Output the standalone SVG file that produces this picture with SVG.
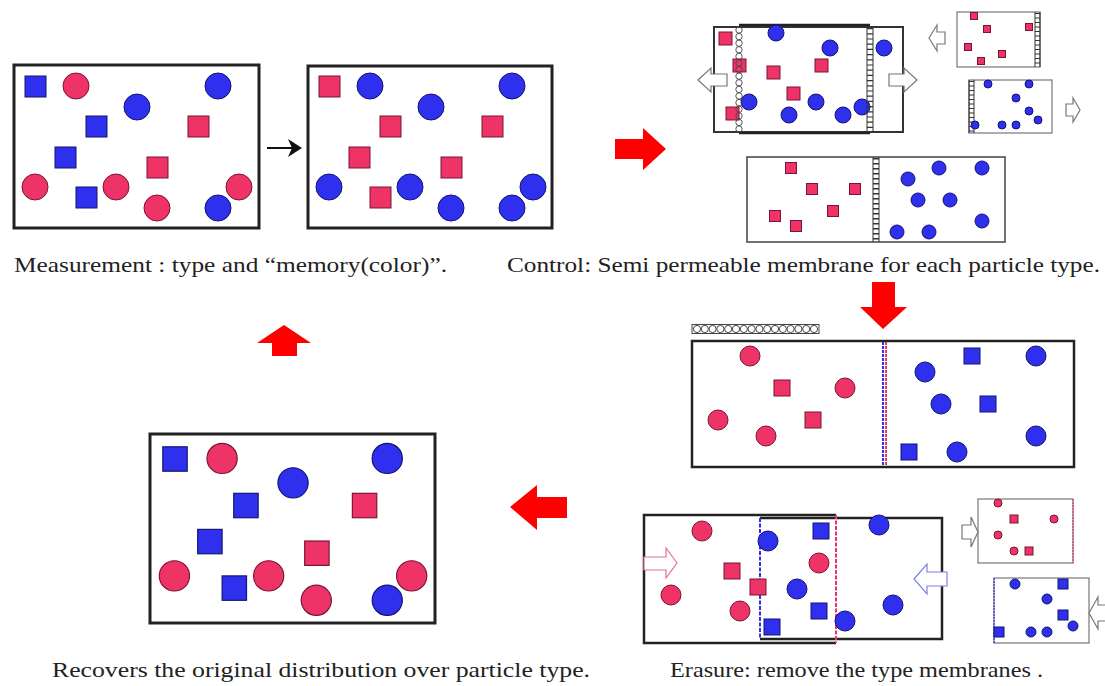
<svg xmlns="http://www.w3.org/2000/svg" xmlns:xlink="http://www.w3.org/1999/xlink" width="1105" height="686" viewBox="0 0 1105 686">
<style>
.rs{fill:#EE3366;stroke:#7A1435;stroke-width:1}
.bs{fill:#2F2FEE;stroke:#141470;stroke-width:1}
.frame{fill:#fff;stroke:#222;stroke-width:3}
.thin{fill:#fff;stroke:#777;stroke-width:1.2}
.line{fill:none;stroke:#222;stroke-width:2.5}
.hollow{fill:#fff;stroke:#777;stroke-width:1.2}
.redarrow{fill:#FF0000}
.mc{fill:#fff;stroke:#333;stroke-width:0.9}
.lad{fill:none;stroke:#333;stroke-width:1}
.label{font-family:"Liberation Serif","DejaVu Serif",serif;font-size:21px;fill:#222}
</style>
<defs>
<g id="set1">
<rect class="bs" x="11" y="11" width="21" height="21"/>
<rect class="bs" x="72" y="51" width="21" height="21"/>
<rect class="bs" x="41" y="82" width="21" height="21"/>
<rect class="bs" x="62" y="122" width="21" height="21"/>
<rect class="rs" x="174" y="51" width="21" height="21"/>
<rect class="rs" x="133" y="92" width="21" height="21"/>
<circle class="rs" cx="62" cy="21" r="13"/>
<circle class="rs" cx="21" cy="122" r="13"/>
<circle class="rs" cx="102" cy="122" r="13"/>
<circle class="rs" cx="143" cy="143" r="13"/>
<circle class="rs" cx="225" cy="122" r="13"/>
<circle class="bs" cx="123" cy="42" r="13"/>
<circle class="bs" cx="204" cy="21" r="13"/>
<circle class="bs" cx="204" cy="143" r="13"/>
</g>
<g id="set2">
<rect class="rs" x="11" y="11" width="21" height="21"/>
<rect class="rs" x="72" y="51" width="21" height="21"/>
<rect class="rs" x="41" y="82" width="21" height="21"/>
<rect class="rs" x="62" y="122" width="21" height="21"/>
<rect class="rs" x="174" y="51" width="21" height="21"/>
<rect class="rs" x="133" y="92" width="21" height="21"/>
<circle class="bs" cx="62" cy="21" r="13"/>
<circle class="bs" cx="21" cy="122" r="13"/>
<circle class="bs" cx="102" cy="122" r="13"/>
<circle class="bs" cx="143" cy="143" r="13"/>
<circle class="bs" cx="225" cy="122" r="13"/>
<circle class="bs" cx="123" cy="42" r="13"/>
<circle class="bs" cx="204" cy="21" r="13"/>
<circle class="bs" cx="204" cy="143" r="13"/>
</g>
</defs>
<rect width="1105" height="686" fill="#fff"/>

<!-- Box 1: measurement -->
<g id="box-measurement">
<rect class="frame" x="14" y="65" width="245" height="163"/>
<use xlink:href="#set1" href="#set1" transform="translate(14,65)"/>
</g>

<!-- Box 2: memory -->
<g id="box-memory">
<rect class="frame" x="308" y="66" width="244" height="162"/>
<use xlink:href="#set2" href="#set2" transform="translate(308,65)"/>
</g>

<!-- Box 3: recovered -->
<g id="box-recovered">
<rect class="frame" x="150" y="434" width="285" height="189"/>
<use xlink:href="#set1" href="#set1" transform="translate(150,434) scale(1.163)"/>
</g>

<!-- Control: sliding membranes -->
<g id="control-slide">
<rect fill="#fff" stroke="#333" stroke-width="2" x="714" y="27" width="189" height="105"/>
<line class="line" x1="739" y1="25" x2="870" y2="25" stroke-width="3"/>
<line class="line" x1="739" y1="133" x2="870" y2="133" stroke-width="3"/>
<rect class="rs" x="719" y="32" width="13" height="13"/>
<rect class="rs" x="733" y="59" width="13" height="13"/>
<rect class="rs" x="767" y="66" width="13" height="13"/>
<rect class="rs" x="815" y="59" width="13" height="13"/>
<rect class="rs" x="787" y="87" width="13" height="13"/>
<rect class="rs" x="726" y="107" width="13" height="13"/>
<circle class="bs" cx="776" cy="33" r="8"/>
<circle class="bs" cx="830" cy="48" r="8"/>
<circle class="bs" cx="884" cy="48" r="8"/>
<circle class="bs" cx="749" cy="102" r="8"/>
<circle class="bs" cx="816" cy="102" r="8"/>
<circle class="bs" cx="789" cy="115" r="8"/>
<circle class="bs" cx="843" cy="115" r="8"/>
<circle class="bs" cx="862" cy="107" r="8"/>
<g fill="none" stroke="#444" stroke-width="0.9">
<circle cx="739" cy="30" r="3.2"/><circle cx="739" cy="36.6" r="3.2"/><circle cx="739" cy="43.2" r="3.2"/><circle cx="739" cy="49.8" r="3.2"/>
<circle cx="739" cy="56.4" r="3.2"/><circle cx="739" cy="63" r="3.2"/><circle cx="739" cy="69.6" r="3.2"/><circle cx="739" cy="76.2" r="3.2"/>
<circle cx="739" cy="82.8" r="3.2"/><circle cx="739" cy="89.4" r="3.2"/><circle cx="739" cy="96" r="3.2"/><circle cx="739" cy="102.6" r="3.2"/>
<circle cx="739" cy="109.2" r="3.2"/><circle cx="739" cy="115.8" r="3.2"/><circle cx="739" cy="122.4" r="3.2"/><circle cx="739" cy="129" r="3.2"/>
</g>
<path class="lad" d="M867,27V132M873,27V132"/>
<line x1="870" y1="28" x2="870" y2="132" stroke="#333" stroke-width="6" stroke-dasharray="1.2 4"/>
<path class="hollow" d="M698,80 L711,68 V74 H727 V86 H711 V92 Z"/>
<path class="hollow" d="M917,80 L904,68 V74 H889 V86 H904 V92 Z"/>
</g>

<!-- Control: separated small boxes -->
<g id="control-red-box">
<rect class="thin" x="957" y="12" width="83" height="55"/>
<path class="lad" d="M1035,12V67M1040,12V67"/>
<line x1="1037.5" y1="13" x2="1037.5" y2="67" stroke="#333" stroke-width="5" stroke-dasharray="1 3.5"/>
<rect class="rs" x="970.5" y="12.5" width="7" height="7"/>
<rect class="rs" x="983.5" y="25.5" width="7" height="7"/>
<rect class="rs" x="1025.5" y="23.5" width="7" height="7"/>
<rect class="rs" x="964.5" y="43.5" width="7" height="7"/>
<rect class="rs" x="998.5" y="50.5" width="7" height="7"/>
<rect class="rs" x="977.5" y="57.5" width="7" height="7"/>
<path class="hollow" d="M929,38 L937,25 V32 H945 V44 H937 V51 Z"/>
</g>
<g id="control-blue-box">
<rect class="thin" x="969" y="80" width="83" height="53"/>
<path class="lad" d="M969,80V133M974,80V133"/>
<line x1="971.5" y1="81" x2="971.5" y2="133" stroke="#333" stroke-width="5" stroke-dasharray="1 3.5"/>
<circle class="bs" cx="988" cy="84" r="4"/>
<circle class="bs" cx="1029" cy="84" r="4"/>
<circle class="bs" cx="1016" cy="98" r="4"/>
<circle class="bs" cx="1029" cy="111" r="4"/>
<circle class="bs" cx="1038" cy="120" r="4"/>
<circle class="bs" cx="975" cy="125" r="4"/>
<circle class="bs" cx="1002" cy="125" r="4"/>
<circle class="bs" cx="1016" cy="125" r="4"/>
<path class="hollow" d="M1080,110 L1073,98 V104 H1066 V116 H1073 V122 Z"/>
</g>

<!-- Control: divided box -->
<g id="control-divided">
<rect fill="#fff" stroke="#444" stroke-width="1.5" x="747" y="157" width="258" height="85"/>
<path class="lad" d="M873,157V242M879,157V242"/>
<line x1="876" y1="158" x2="876" y2="242" stroke="#333" stroke-width="6" stroke-dasharray="1.5 3.5"/>
<rect class="rs" x="785.5" y="162.5" width="11" height="11"/>
<rect class="rs" x="806.5" y="183.5" width="11" height="11"/>
<rect class="rs" x="849.5" y="183.5" width="11" height="11"/>
<rect class="rs" x="769.5" y="210.5" width="11" height="11"/>
<rect class="rs" x="827.5" y="205.5" width="11" height="11"/>
<rect class="rs" x="790.5" y="220.5" width="11" height="11"/>
<circle class="bs" cx="908" cy="179" r="7"/>
<circle class="bs" cx="939" cy="168" r="7"/>
<circle class="bs" cx="982" cy="168" r="7"/>
<circle class="bs" cx="918" cy="200" r="7"/>
<circle class="bs" cx="950" cy="200" r="7"/>
<circle class="bs" cx="982" cy="221" r="7"/>
<circle class="bs" cx="897" cy="232" r="7"/>
<circle class="bs" cx="929" cy="232" r="7"/>
</g>

<!-- Membrane row (removed membrane) -->
<g id="membrane-row">
<rect fill="none" stroke="#444" stroke-width="1" x="692" y="324.5" width="127" height="9"/>
<g class="mc">
<circle cx="697" cy="329" r="3.6"/><circle cx="704.8" cy="329" r="3.6"/><circle cx="712.6" cy="329" r="3.6"/><circle cx="720.4" cy="329" r="3.6"/>
<circle cx="728.2" cy="329" r="3.6"/><circle cx="736" cy="329" r="3.6"/><circle cx="743.8" cy="329" r="3.6"/><circle cx="751.6" cy="329" r="3.6"/>
<circle cx="759.4" cy="329" r="3.6"/><circle cx="767.2" cy="329" r="3.6"/><circle cx="775" cy="329" r="3.6"/><circle cx="782.8" cy="329" r="3.6"/>
<circle cx="790.6" cy="329" r="3.6"/><circle cx="798.4" cy="329" r="3.6"/><circle cx="806.2" cy="329" r="3.6"/><circle cx="814" cy="329" r="3.6"/>
</g>
</g>

<!-- Erasure: box with memory membranes -->
<g id="erasure-box">
<rect fill="#fff" stroke="#222" stroke-width="2.5" x="692" y="341" width="382" height="126"/>
<line x1="883" y1="342" x2="883" y2="466" stroke="#3333DD" stroke-width="2" stroke-dasharray="3 1"/>
<line x1="886" y1="342" x2="886" y2="466" stroke="#EE3366" stroke-width="2" stroke-dasharray="3 1"/>
<circle class="rs" cx="750" cy="356" r="10"/>
<circle class="rs" cx="845" cy="388" r="10"/>
<circle class="rs" cx="718" cy="420" r="10"/>
<circle class="rs" cx="766" cy="436" r="10"/>
<rect class="rs" x="774" y="380" width="16" height="16"/>
<rect class="rs" x="805" y="412" width="16" height="16"/>
<circle class="bs" cx="925" cy="372" r="10"/>
<circle class="bs" cx="1036" cy="356" r="10"/>
<circle class="bs" cx="941" cy="404" r="10"/>
<circle class="bs" cx="1036" cy="436" r="10"/>
<circle class="bs" cx="957" cy="452" r="10"/>
<rect class="bs" x="964" y="348" width="16" height="16"/>
<rect class="bs" x="980" y="396" width="16" height="16"/>
<rect class="bs" x="901" y="444" width="16" height="16"/>
</g>

<!-- Erasure: overlapping boxes -->
<g id="erasure-overlap">
<rect fill="#fff" stroke="none" x="644" y="515" width="298" height="128"/>
<path class="line" d="M836,515 H644 V643 H836"/>
<path class="line" d="M760,518 H942 V639 H760"/>
<line x1="836" y1="515" x2="836" y2="643" stroke="#EE3366" stroke-width="2" stroke-dasharray="4 1.5"/>
<line x1="760" y1="518" x2="760" y2="639" stroke="#3333DD" stroke-width="2" stroke-dasharray="4 1.5"/>
<circle class="rs" cx="702" cy="531" r="10"/>
<circle class="rs" cx="671" cy="595" r="10"/>
<circle class="rs" cx="740" cy="611" r="10"/>
<circle class="rs" cx="819" cy="563" r="10"/>
<rect class="rs" x="724" y="563" width="16" height="16"/>
<rect class="rs" x="750" y="579" width="16" height="16"/>
<circle class="bs" cx="768" cy="541" r="10"/>
<circle class="bs" cx="879" cy="525" r="10"/>
<circle class="bs" cx="797" cy="589" r="10"/>
<circle class="bs" cx="893" cy="605" r="10"/>
<circle class="bs" cx="845" cy="621" r="10"/>
<rect class="bs" x="813" y="523" width="16" height="16"/>
<rect class="bs" x="811" y="603" width="16" height="16"/>
<rect class="bs" x="764" y="619" width="16" height="16"/>
<path fill="#fff" stroke="#E07090" stroke-width="1.2" d="M677,563 L666,548 V557 H644 V570 H666 V578 Z"/>
<path fill="#fff" stroke="#8080E0" stroke-width="1.2" d="M914,579 L927,564 V572 H947 V586 H927 V594 Z"/>
</g>

<!-- Erasure: small boxes -->
<g id="erasure-red-box">
<rect class="thin" x="978" y="499" width="95" height="64"/>
<line x1="1073" y1="499" x2="1073" y2="563" stroke="#EE3366" stroke-width="1.2" stroke-dasharray="2 1"/>
<circle class="rs" cx="998" cy="503" r="4"/>
<circle class="rs" cx="1054" cy="519" r="4"/>
<circle class="rs" cx="998" cy="535" r="4"/>
<circle class="rs" cx="1014" cy="551" r="4"/>
<rect class="rs" x="1010" y="515" width="8" height="8"/>
<rect class="rs" x="1025" y="547" width="8" height="8"/>
<path class="hollow" d="M978,532 L971,517 V525 H962 V539 H971 V547 Z"/>
</g>
<g id="erasure-blue-box">
<rect class="thin" x="994" y="578" width="95" height="65"/>
<line x1="994" y1="578" x2="994" y2="643" stroke="#3333DD" stroke-width="1.2" stroke-dasharray="2 1"/>
<circle class="bs" cx="1015" cy="584" r="5"/>
<circle class="bs" cx="1047" cy="599" r="5"/>
<circle class="bs" cx="1073" cy="626" r="5"/>
<circle class="bs" cx="1031" cy="632" r="5"/>
<circle class="bs" cx="1047" cy="632" r="5"/>
<rect class="bs" x="1058" y="579" width="10" height="10"/>
<rect class="bs" x="1058" y="610" width="10" height="10"/>
<rect class="bs" x="994" y="627" width="10" height="10"/>
<path class="hollow" d="M1089,613 L1098,597 V605 H1106 V621 H1098 V629 Z"/>
</g>

<!-- Connectors -->
<g id="connectors">
<line x1="267" y1="148" x2="292" y2="148" stroke="#111" stroke-width="2"/>
<path fill="#111" d="M302,148 L288,139 L292,148 L288,157 Z"/>
<path class="redarrow" d="M615,139 H643 V128 L666,149 L643,170 V159 H615 Z"/>
<path class="redarrow" d="M872,282 H895 V307 H907 L883,329 L860,307 H872 Z"/>
<path class="redarrow" d="M272,356 V343 H257 L284,325 L311,343 H297 V356 Z"/>
<path class="redarrow" d="M567,497 H537 V485 L510,507 L537,530 V518 H567 Z"/>
</g>

<!-- Labels -->
<g id="labels">
<text class="label" x="14" y="272" textLength="433" lengthAdjust="spacingAndGlyphs">Measurement : type and “memory(color)”.</text>
<text class="label" x="507" y="272" textLength="593" lengthAdjust="spacingAndGlyphs">Control: Semi permeable membrane for each particle type.</text>
<text class="label" x="52" y="677" textLength="538" lengthAdjust="spacingAndGlyphs">Recovers the original distribution over particle type.</text>
<text class="label" x="670" y="677" textLength="373" lengthAdjust="spacingAndGlyphs">Erasure: remove the type membranes .</text>
</g>
</svg>
